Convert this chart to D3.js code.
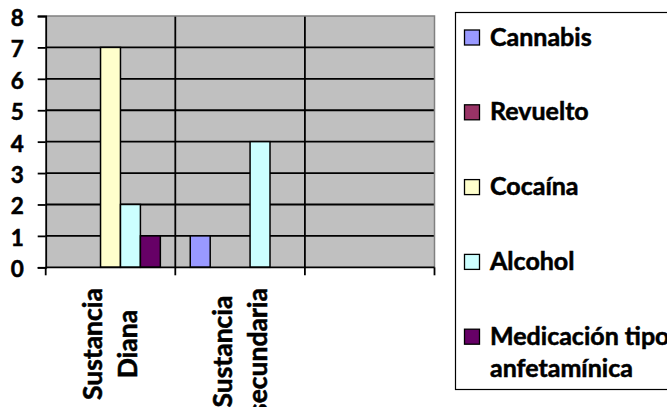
<!DOCTYPE html>
<html>
<head>
<meta charset="utf-8">
<script src="https://cdn.jsdelivr.net/npm/d3@7"></script>
<style>
  html, body { margin: 0; padding: 0; background: #ffffff; }
  svg { display: block; }
  text { font-family: Lato, "Open Sans", sans-serif; font-weight: bold; fill: #000; stroke: #000; stroke-width: 0.55px; }
</style>
</head>
<body>
<svg id="chart" width="667" height="407"></svg>
<script>
// ---- data ----
const categories = ["Sustancia Diana", "Sustancia secundaria", ""];
const categoryLines = [["Sustancia", "Diana"], ["Sustancia", "secundaria"], []];
const seriesNames = ["Cannabis", "Revuelto", "Cocaína", "Alcohol", "Medicación tipo anfetamínica"];
const legendLines = [["Cannabis"], ["Revuelto"], ["Cocaína"], ["Alcohol"], ["Medicación tipo", "anfetamínica"]];
const cannabis   = [0, 1, 0];
const revuelto   = [0, 0, 0];
const cocaina    = [7, 0, 0];
const alcohol    = [2, 4, 0];
const medicacion = [1, 0, 0];
const seriesValues = [cannabis, revuelto, cocaina, alcohol, medicacion];
const seriesColors = ["#9999FF", "#993366", "#FFFFCC", "#CCFFFF", "#660066"];
const yTicks = [0, 1, 2, 3, 4, 5, 6, 7, 8];

// ---- layout ----
const svg = d3.select("#chart");
const plot = { left: 45.7, right: 434.5, top: 16, bottom: 267.3 };

const x = d3.scaleBand().domain(categories).range([plot.left, plot.right]).paddingInner(0).paddingOuter(0);
const xs = d3.scaleBand().domain(seriesNames).range([0, x.bandwidth()]).paddingInner(0).paddingOuter(0.75);
const y = d3.scaleLinear().domain([0, 8]).range([plot.bottom, plot.top]);

// plot background
svg.append("rect")
  .attr("x", plot.left).attr("y", plot.top)
  .attr("width", plot.right - plot.left).attr("height", plot.bottom - plot.top)
  .attr("fill", "#C0C0C0");

// horizontal gridlines
svg.append("g").selectAll("line").data(yTicks.filter(d => d > 0 && d < 8)).join("line")
  .attr("x1", plot.left).attr("x2", plot.right)
  .attr("y1", d => y(d)).attr("y2", d => y(d))
  .attr("stroke", "#000").attr("stroke-width", 1.8);

// vertical gridlines at category boundaries
svg.append("g").selectAll("line").data(categories.slice(1)).join("line")
  .attr("x1", d => x(d)).attr("x2", d => x(d))
  .attr("y1", plot.top).attr("y2", plot.bottom)
  .attr("stroke", "#000").attr("stroke-width", 1.8);

// plot border top/right (gray)
svg.append("path")
  .attr("d", `M${plot.left},${plot.top}H${plot.right}V${plot.bottom}`)
  .attr("fill", "none").attr("stroke", "#808080").attr("stroke-width", 1.5);

// bars
const barData = [];
seriesNames.forEach((s, si) => {
  categories.forEach((c, ci) => {
    const v = seriesValues[si][ci];
    if (v > 0) barData.push({ s, c, v, color: seriesColors[si] });
  });
});
svg.append("g").selectAll("rect").data(barData).join("rect")
  .attr("x", d => x(d.c) + xs(d.s))
  .attr("y", d => y(d.v))
  .attr("width", xs.bandwidth())
  .attr("height", d => y(0) - y(d.v))
  .attr("fill", d => d.color)
  .attr("stroke", "#000").attr("stroke-width", 1.5);

// y axis
const yAxis = d3.axisLeft(y).tickValues(yTicks).tickSize(8).tickPadding(14).tickFormat(d3.format("d"));
const gy = svg.append("g").attr("transform", `translate(${plot.left},0)`).call(yAxis);
gy.select(".domain").attr("stroke", "#000").attr("stroke-width", 1.8);
gy.selectAll(".tick line").attr("stroke", "#000").attr("stroke-width", 1.8);
gy.selectAll(".tick text")
  .attr("font-size", 22.5).attr("font-family", "Lato, sans-serif").attr("font-weight", "bold")
  .attr("dy", "0.42em");

// x axis line and boundary ticks
const boundaries = categories.map(c => x(c)).concat([plot.right]);
svg.append("line")
  .attr("x1", plot.left).attr("x2", plot.right)
  .attr("y1", plot.bottom).attr("y2", plot.bottom)
  .attr("stroke", "#000").attr("stroke-width", 1.8);
svg.append("g").selectAll("line").data(boundaries).join("line")
  .attr("x1", d => d).attr("x2", d => d)
  .attr("y1", plot.bottom).attr("y2", plot.bottom + 8)
  .attr("stroke", "#000").attr("stroke-width", 1.8);

// x category labels (rotated, multi-line, centered)
const xLabelFont = 26.5;
const lineGap = 35;
categories.forEach((c, ci) => {
  const lines = categoryLines[ci];
  if (!lines.length) return;
  const cx = x(c) + x.bandwidth() / 2;
  const tmp = svg.append("g");
  const lens = lines.map(l => {
    const t = tmp.append("text").attr("font-size", xLabelFont).text(l);
    return t.node().getComputedTextLength();
  });
  tmp.remove();
  const maxLen = d3.max(lens);
  const cy = 288 + maxLen / 2;
  const n = lines.length;
  lines.forEach((l, i) => {
    const bx = cx + 9 + (i - (n - 1) / 2) * lineGap;
    svg.append("text")
      .attr("transform", `translate(${bx},${cy}) rotate(-90)`)
      .attr("text-anchor", "middle")
      .attr("font-size", xLabelFont)
      .text(l);
  });
});

// legend
const legendFont = 25;
svg.append("rect")
  .attr("x", 455.5).attr("y", 12.5).attr("width", 230).attr("height", 377)
  .attr("fill", "#fff").attr("stroke", "#000").attr("stroke-width", 1.2);
const legendY = d3.scaleLinear().domain([0, 4]).range([45.5, 344.7]);
const lg = svg.append("g").selectAll("g").data(seriesNames).join("g")
  .attr("transform", (d, i) => `translate(0,${legendY(i)})`);
lg.append("rect")
  .attr("x", 464.5).attr("y", -15.5).attr("width", 15).attr("height", 15)
  .attr("fill", (d, i) => seriesColors[i]).attr("stroke", "#000").attr("stroke-width", 1.3);
lg.each(function(d, i) {
  const g = d3.select(this);
  legendLines[i].forEach((l, j) => {
    g.append("text").attr("x", 490).attr("y", j * 32)
      .attr("font-size", legendFont).text(l);
  });
});
</script>
</body>
</html>
